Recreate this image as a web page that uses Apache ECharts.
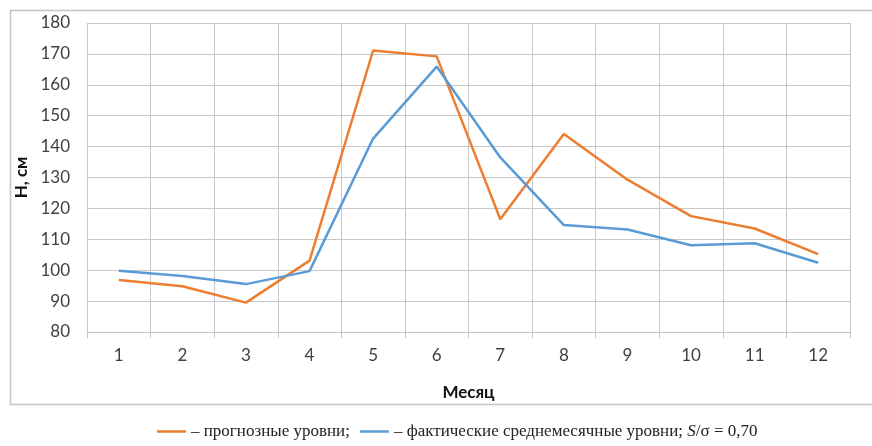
<!DOCTYPE html>
<html>
<head>
<meta charset="utf-8">
<script src="https://cdn.jsdelivr.net/npm/echarts@6/dist/echarts.min.js"></script>
<style>
  html, body { margin: 0; padding: 0; background: #fff; }
  #chart { width: 872px; height: 446px; }
</style>
</head>
<body>
<div id="chart"></div>
<script>
// месяцы
var months = ['1', '2', '3', '4', '5', '6', '7', '8', '9', '10', '11', '12']
// прогнозные уровни, см
var forecast = [96.8, 94.8, 89.5, 103.1, 171.1, 169.2, 116.5, 144.1, 129.3, 117.5, 113.5, 105.2]
// фактические среднемесячные уровни, см
var actual = [99.8, 98.1, 95.5, 99.7, 142.6, 165.9, 136.5, 114.6, 113.2, 108.1, 108.7, 102.4]
var seriesNames = ['прогнозные', 'фактические']

var numFont = 'Lato, "Noto Sans", sans-serif'
var serif = '"Liberation Serif", serif'

var myChart = echarts.init(document.getElementById('chart'))
var option = {
  backgroundColor: '#fff',
  animation: false,
  graphic: [
    {
      type: 'rect',
      shape: { x: 10.5, y: 10.5, width: 880, height: 394 },
      style: { fill: 'none', stroke: '#c4c4c4', lineWidth: 1.5 },
      silent: true
    }
  ],
  grid: { left: 87, right: 22, top: 23, bottom: 114 },
  legend: {
    bottom: 1,
    left: 152,
    icon: 'rect',
    itemWidth: 29,
    itemHeight: 2.5,
    itemGap: 10,
    data: seriesNames,
    textStyle: {
      fontFamily: serif,
      fontSize: 17,
      color: '#222',
      rich: {
        t: { fontFamily: serif, fontSize: 17, color: '#222' },
        i: { fontFamily: serif, fontSize: 17, color: '#222', fontStyle: 'italic' }
      }
    },
    formatter: function (name) {
      if (name === 'прогнозные') return '{t|– прогнозные уровни;}'
      return '{t|– фактические среднемесячные уровни; }{i|S}{t|/σ = 0,70}'
    }
  },
  xAxis: {
    type: 'category',
    data: months,
    boundaryGap: true,
    name: 'Месяц',
    nameLocation: 'middle',
    nameGap: 52,
    nameTextStyle: { fontFamily: numFont, fontWeight: 'bold', fontSize: 17, color: '#111' },
    axisLine: { show: true, lineStyle: { color: '#c4c4c4', width: 1 } },
    axisTick: { show: true, length: 6, lineStyle: { color: '#c4c4c4' } },
    axisLabel: { fontFamily: numFont, fontSize: 17, color: '#404040', margin: 15 },
    splitLine: { show: true, lineStyle: { color: '#c8c8c8', width: 1 } }
  },
  yAxis: {
    type: 'value',
    min: 80,
    max: 180,
    interval: 10,
    name: 'Н, см',
    nameLocation: 'middle',
    nameGap: 57,
    nameRotate: 90,
    nameTextStyle: { fontFamily: numFont, fontWeight: 'bold', fontSize: 17, color: '#111' },
    axisLine: { show: false },
    axisTick: { show: false },
    axisLabel: { fontFamily: numFont, fontSize: 17, color: '#404040', margin: 17 },
    splitLine: { show: true, lineStyle: { color: '#c8c8c8', width: 1 } }
  },
  series: [
    {
      name: seriesNames[0],
      type: 'line',
      data: forecast,
      symbol: 'none',
      color: '#ED7D31',
      lineStyle: { color: '#ED7D31', width: 2.5 }
    },
    {
      name: seriesNames[1],
      type: 'line',
      data: actual,
      symbol: 'none',
      color: '#5B9BD5',
      lineStyle: { color: '#5B9BD5', width: 2.5 }
    }
  ]
}
myChart.setOption(option)
</script>
</body>
</html>
